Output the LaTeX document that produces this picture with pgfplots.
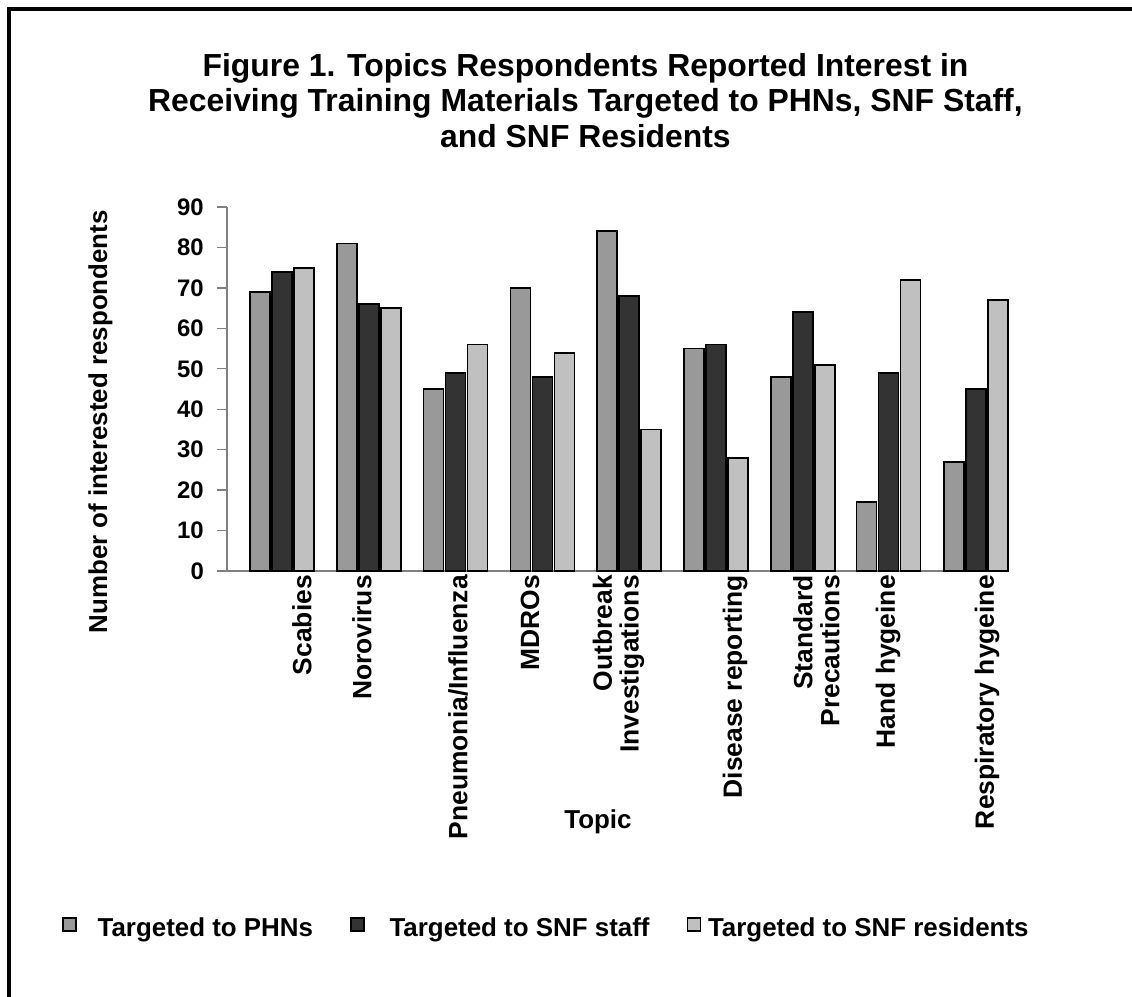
\documentclass[border=0pt]{standalone}
\usepackage{pgfplots}
\pgfplotsset{compat=1.18}
\usepackage{pgfplotstable}
\usepackage{fontspec}
\setmainfont{Liberation Sans}

% x = group centre (pixel-like units), then the three series
\pgfplotstableread{
x     phn staff res
282    69  74  75
369    81  66  65
455.5  45  49  56
542.5  70  48  54
629    84  68  35
716    55  56  28
803    48  64  51
888.5  17  49  72
976    27  45  67
}\topics

\definecolor{phn}{HTML}{999999}
\definecolor{staff}{HTML}{333333}
\definecolor{res}{HTML}{C0C0C0}
\definecolor{axisgray}{HTML}{808080}

\begin{document}
\begin{tikzpicture}
\path[use as bounding box] (0bp,0bp) rectangle (1132bp,-997bp);
\draw[line width=3.5bp] (9bp,-997bp) -- (9bp,-9bp) -- (1132bp,-9bp);
\begin{axis}[
    at={(227bp,-571bp)}, anchor=south west,
    scale only axis, width=781bp, height=364bp,
    xmin=227, xmax=1008, ymin=0, ymax=90,
    clip=false,
    axis x line*=bottom, axis y line*=left,
    axis line style={axisgray, line width=1.3bp},
    tick align=outside, major tick length=10bp,
    ytick={0,10,...,90},
    ytick style={axisgray, line width=1.3bp},
    yticklabel style={font=\fontsize{24}{24}\selectfont\bfseries, inner sep=0bp},
    yticklabel shift=13bp,
    /pgf/number format/assume math mode=true,
    xtick={302,362,458,530,618.5,735,816.5,888,987},
    xticklabels={Scabies,Norovirus,Pneumonia/Influenza,MDROs,{Outbreak\\Investigations},Disease reporting,{Standard\\Precautions},Hand hygeine,Respiratory hygeine},
    xtick style={draw=none},
    xticklabel style={rotate=90, anchor=east, align=right, font=\fontsize{26.5}{27}\selectfont\bfseries, inner sep=0bp},
    xticklabel shift=-6bp,
    extra x ticks={235,323,411,499,704,812,922,1007},
    extra x tick labels={},
    extra x tick style={major tick length=9bp, tick style={draw=axisgray, line width=1.3bp}},
    title={Figure 1. Topics Respondents Reported Interest in\\Receiving Training Materials Targeted to PHNs, SNF Staff,\\and SNF Residents},
    title style={at={(axis description cs:0.459,1.406)}, anchor=north, align=center, font=\fontsize{32}{35.5}\selectfont\bfseries, inner sep=0bp},
    xlabel={Topic},
    xlabel style={at={(axis description cs:0.475,-0.6876)}, anchor=center, font=\fontsize{26}{26}\selectfont\bfseries, inner sep=0bp},
    ylabel={Number of interested respondents},
    ylabel style={at={(axis description cs:-0.162,0.41)}, anchor=center, font=\fontsize{26}{26}\selectfont\bfseries, inner sep=0bp},
    ybar, bar width=20bp,
    legend columns=3,
    legend cell align=left,
    legend image code/.code={\draw[#1,line width=1.5bp] (0bp,-3.2bp) rectangle (13bp,9.8bp);},
    legend style={at={(axis description cs:-0.2113,-0.979)}, anchor=west, draw=none, fill=none, inner sep=0bp,
        font=\fontsize{26}{26}\selectfont\bfseries, nodes={inner sep=0bp},
        /tikz/every odd column/.append style={column sep=7bp},
        /tikz/every even column/.append style={column sep=37bp}},
]
\addplot[fill=phn, draw=black, line width=1.8bp, bar shift=-22bp] table[x=x, y=phn] {\topics};
\addlegendentry{\hspace{14bp}Targeted to PHNs}
\addplot[fill=staff, draw=black, line width=1.8bp, bar shift=0bp] table[x=x, y=staff] {\topics};
\addlegendentry{\hspace{18bp}Targeted to SNF staff\hspace{14bp}}
\addplot[fill=res, draw=black, line width=1.8bp, bar shift=22bp] table[x=x, y=res] {\topics};
\addlegendentry{Targeted to SNF residents}
\end{axis}
\end{tikzpicture}
\end{document}
